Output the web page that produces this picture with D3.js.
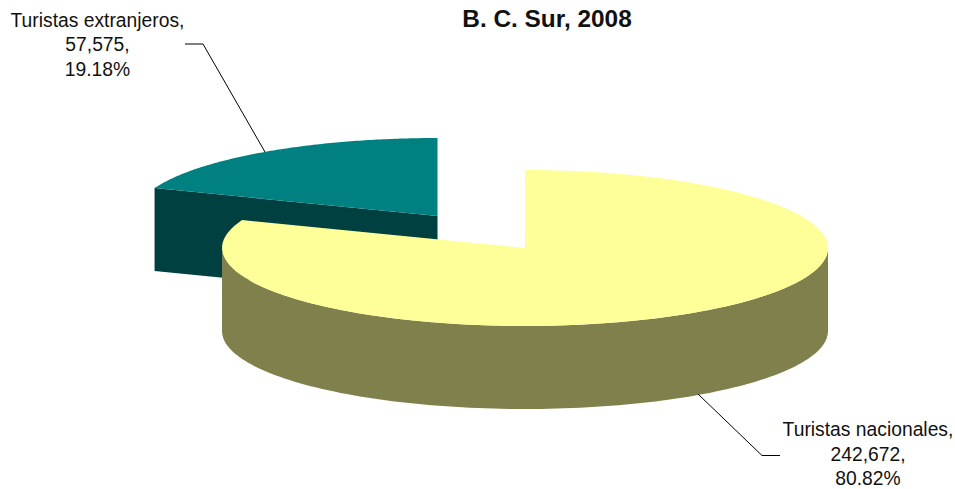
<!DOCTYPE html>
<html><head>
<meta charset="utf-8">
<title>B. C. Sur, 2008</title>
<script src="https://d3js.org/d3.v7.min.js"></script>
<style>
  html, body { margin:0; padding:0; background:white; }
  svg { display:block; }
  text { font-family:"Liberation Sans", Arial, sans-serif; font-size:19.3px; fill:#111; }
</style>
</head>
<body>
<svg id="chart" width="955" height="489"></svg>
<script>
const categories = ["Turistas nacionales", "Turistas extranjeros"];
const values = [242672, 57575];
const valueLabels = ["242,672,", "57,575,"];
const percentLabels = ["80.82%", "19.18%"];
const topColors = ["#ffff99", "#008080"];
const sideColors = ["#80804d", "#004040"];

const svg = d3.select("svg#chart");
const rx = 303, ry = 78, depth = 83;
const centers = [[525, 248], [437.5, 216]];

// pie keeps the data order, starts at 12 o'clock and goes clockwise
const pie = d3.pie().sort(null).value(d => d)(values);

// squash a pie angle onto the tilted ellipse
const project = (c, a, dy = 0) => [c[0] + rx * Math.sin(a), c[1] - ry * Math.cos(a) + dy];

const arcPoints = function(c, a0, a1, dy) {
  const n = 120;
  return d3.range(n + 1).map(i => project(c, a0 + (a1 - a0) * i / n, dy));
};
const line = d3.line();

// extranjeros goes first, nacionales sits in front of it
const teal = pie[1], yellow = pie[0];
const c1 = centers[1], c0 = centers[0];

// cut face of the teal slice
const p1 = project(c1, teal.startAngle);
svg.append("path")
  .attr("d", line([p1, c1, [c1[0], c1[1] + depth], [p1[0], p1[1] + depth]]) + "Z")
  .attr("fill", sideColors[1]);

svg.append("path")
  .attr("d", line([c1, ...arcPoints(c1, teal.startAngle, teal.endAngle, 0)]) + "Z")
  .attr("fill", topColors[1]);

// outer wall of the yellow slice, only the front half shows
const front0 = Math.PI / 2, front1 = Math.min(Math.PI * 1.5, yellow.endAngle);
svg.append("path")
  .attr("d", line([...arcPoints(c0, front0, front1, 0), ...arcPoints(c0, front1, front0, depth)]) + "Z")
  .attr("fill", sideColors[0]);

svg.append("path")
  .attr("d", line([c0, ...arcPoints(c0, yellow.startAngle, yellow.endAngle, 0)]) + "Z")
  .attr("fill", topColors[0]);

// leader lines
const leaders = [
  [[185, 44], [203, 44], [265, 152]],
  [[698, 394], [762, 455.5], [780, 455.5]]
];
svg.selectAll("path.leader").data(leaders)
  .join("path")
  .attr("class", "leader")
  .attr("fill", "none")
  .attr("stroke", "black")
  .attr("stroke-width", 1)
  .attr("d", d => line(d));

// title
svg.append("text")
  .attr("x", 547).attr("y", 27)
  .attr("text-anchor", "middle")
  .style("font-size", "24.4px")
  .style("font-weight", "bold")
  .text("B. C. Sur, 2008");

// labels, bottom one pulled up a little so it stays inside the frame
const labelX = [868, 97.5], labelY = [436, 26.5];
[0, 1].forEach(function(i) {
  const rows = [categories[i] + ",", valueLabels[i], percentLabels[i]];
  svg.selectAll("text.lab" + i).data(rows)
    .join("text")
    .attr("class", "lab" + i)
    .attr("x", labelX[i])
    .attr("y", (d, j) => labelY[i] + j * 24.5)
    .attr("text-anchor", "middle")
    .text(d => d);
});
</script>
</body>
</html>
